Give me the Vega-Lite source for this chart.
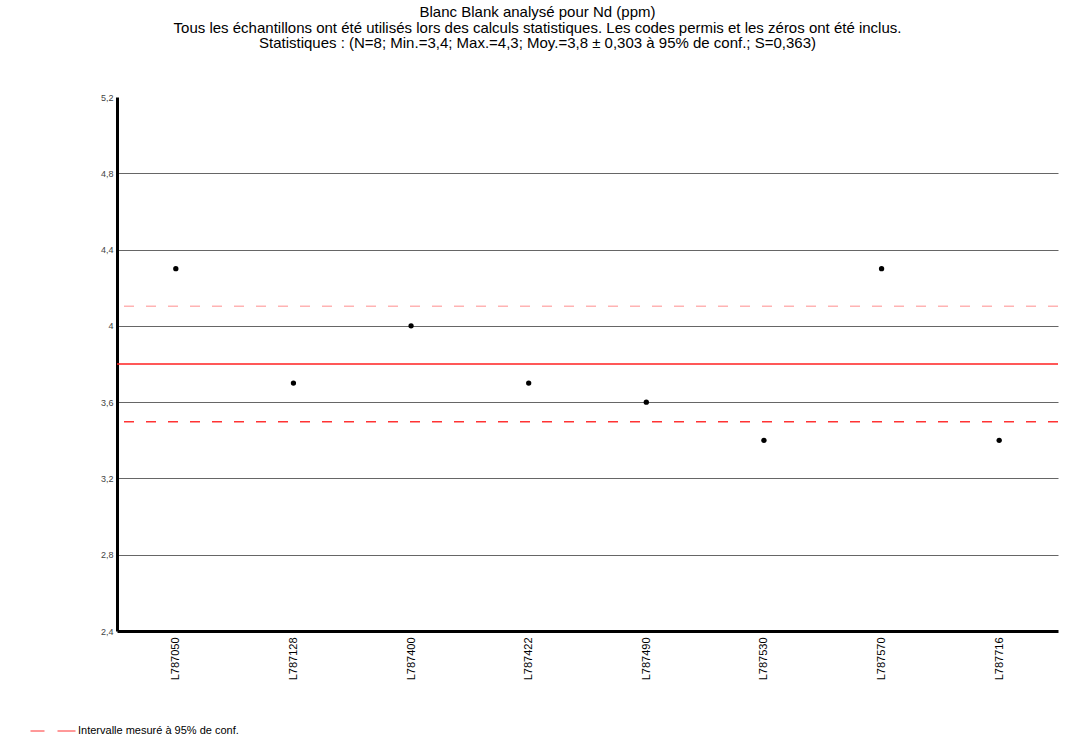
{
  "$schema": "https://vega.github.io/schema/vega-lite/v6.json",
  "width": 941,
  "height": 534,
  "autosize": {"type": "none"},
  "padding": {"left": 117, "top": 97, "right": 16, "bottom": 107},
  "background": "white",
  "title": {
    "text": ["Blanc Blank analysé pour Nd (ppm)", "Tous les échantillons ont été utilisés lors des calculs statistiques. Les codes permis et les zéros ont été inclus.", "Statistiques : (N=8; Min.=3,4; Max.=4,3; Moy.=3,8 ± 0,303 à 95% de conf.; S=0,363)"],
    "font": "Liberation Sans",
    "fontSize": 15,
    "fontWeight": "normal",
    "color": "black",
    "lineHeight": 15.5,
    "anchor": "middle",
    "frame": "group",
    "dx": -50,
    "offset": 42
  },
  "config": {
    "view": {"stroke": null},
    "font": "Liberation Sans"
  },
  "datasets": {
    "samples": [
      {"sample": "L787050", "value": 4.3},
      {"sample": "L787128", "value": 3.7},
      {"sample": "L787400", "value": 4.0},
      {"sample": "L787422", "value": 3.7},
      {"sample": "L787490", "value": 3.6},
      {"sample": "L787530", "value": 3.4},
      {"sample": "L787570", "value": 4.3},
      {"sample": "L787716", "value": 3.4}
    ],
    "stats": [
      {"mean": 3.8, "lower": 3.497, "upper": 4.103, "label": "Intervalle mesuré à 95% de conf."}
    ]
  },
  "layer": [
    {
      "data": {"name": "stats"},
      "mark": {"type": "rule", "color": "#ffb3b3", "strokeWidth": 1.5, "strokeDash": [10, 12]},
      "encoding": {"y": {"field": "upper", "type": "quantitative", "scale": {"domain": [2.4, 5.2]}}}
    },
    {
      "data": {"name": "stats"},
      "mark": {"type": "rule", "strokeWidth": 1.5, "strokeDash": [10, 12]},
      "encoding": {
        "y": {"field": "lower", "type": "quantitative"},
        "stroke": {
          "field": "label", "type": "nominal",
          "scale": {"range": ["#ff3333"]},
          "legend": {
            "title": null,
            "orient": "none",
            "legendX": -87,
            "legendY": 611,
            "padding": 0,
            "symbolType": "stroke",
            "symbolSize": 2025,
            "symbolDash": [14, 13, 18, 0],
            "symbolStrokeWidth": 1,
            "symbolStrokeColor": "#ff3333",
            "labelFont": "Liberation Sans",
            "labelFontSize": 11,
            "labelLimit": 400,
            "labelColor": "black",
            "labelOffset": 2
          }
        }
      }
    },
    {
      "data": {"name": "stats"},
      "mark": {"type": "rule", "color": "#ff2020", "strokeWidth": 1.5},
      "encoding": {"y": {"field": "mean", "type": "quantitative"}}
    },
    {
      "data": {"name": "samples"},
      "mark": {"type": "point", "filled": true, "color": "black", "size": 28, "opacity": 1},
      "encoding": {
        "x": {
          "field": "sample", "type": "nominal", "sort": null,
          "scale": {"type": "point", "padding": 0.5},
          "axis": {
            "title": null,
            "labelAngle": -90,
            "labelFont": "Liberation Sans",
            "labelFontSize": 11,
            "labelColor": "black",
            "labelPadding": 6,
            "ticks": false,
            "domainColor": "black",
            "domainWidth": 3,
            "grid": false
          }
        },
        "y": {
          "field": "value", "type": "quantitative",
          "scale": {"domain": [2.4, 5.2], "nice": false, "zero": false},
          "axis": {
            "title": null,
            "values": [2.4, 2.8, 3.2, 3.6, 4.0, 4.4, 4.8, 5.2],
            "labelExpr": "replace(format(datum.value, '.1~f'), '.', ',')",
            "labelFont": "Liberation Sans",
            "labelFontSize": 9,
            "labelColor": "#444",
            "labelPadding": 4,
            "ticks": false,
            "domainColor": "black",
            "domainWidth": 3,
            "grid": true,
            "gridColor": "#666",
            "gridWidth": 1,
            "gridOpacity": {"condition": {"test": "datum.value > 5 || datum.value < 2.5", "value": 0}, "value": 1}
          }
        }
      }
    }
  ]
}
